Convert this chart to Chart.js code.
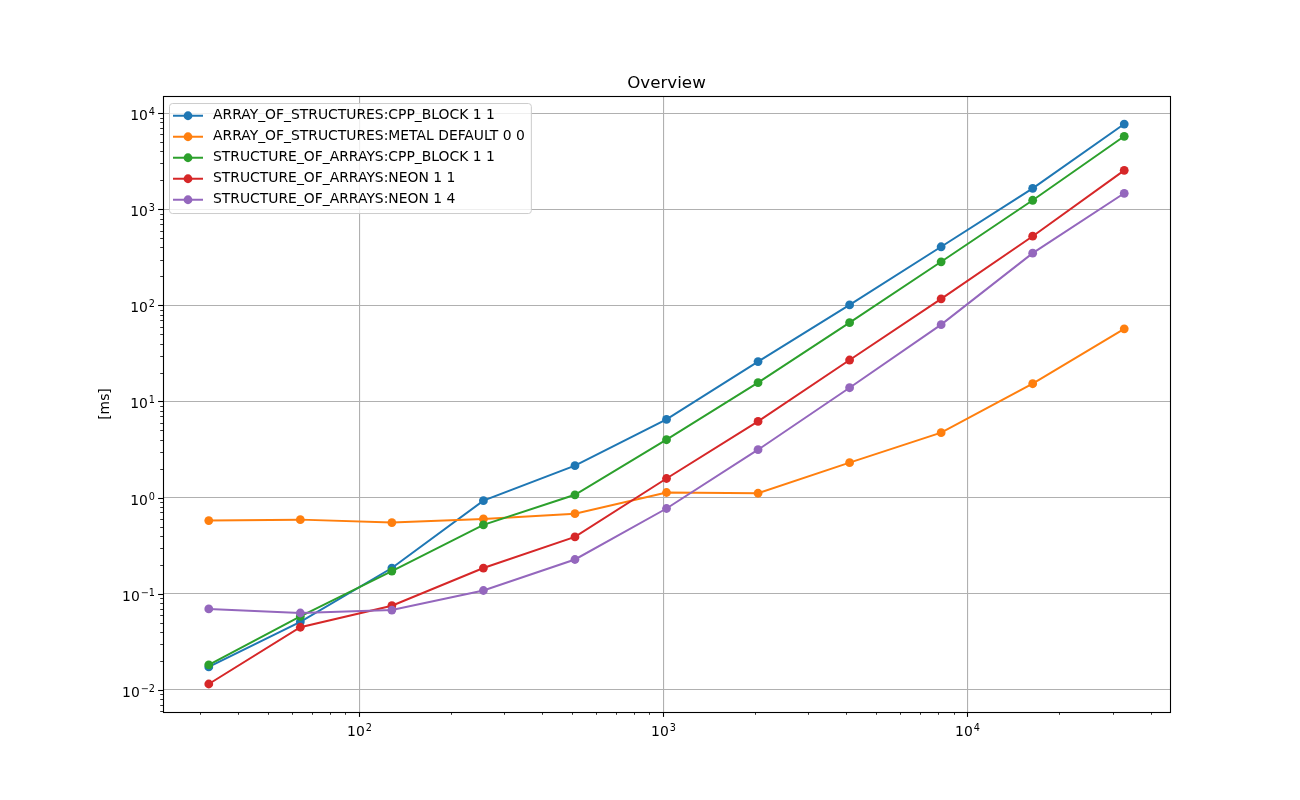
<!DOCTYPE html>
<html>
<head>
<meta charset="utf-8">
<script src="https://cdn.jsdelivr.net/npm/chart.js@4/dist/chart.umd.min.js"></script>
<style>
  html, body { margin: 0; padding: 0; background: #fff; }
  #wrap { width: 1300px; height: 800px; }
</style>
</head>
<body>
<div id="wrap"><canvas id="OverviewChart"></canvas></div>
<script>
// problem sizes (x axis)
const sizes = [32, 64, 128, 256, 512, 1024, 2048, 4096, 8192, 16384, 32768];

// times in ms
const aosCppBlock = [0.0173, 0.051, 0.185, 0.93, 2.15, 6.5, 26, 101, 407, 1650, 7700];
const aosMetal    = [0.577, 0.59, 0.55, 0.60, 0.68, 1.13, 1.11, 2.31, 4.74, 15.3, 57];
const soaCppBlock = [0.0182, 0.058, 0.172, 0.52, 1.07, 4.0, 15.7, 66, 284, 1240, 5740];
const soaNeon11   = [0.0115, 0.0448, 0.075, 0.185, 0.39, 1.58, 6.2, 27, 117, 524, 2540];
const soaNeon14   = [0.0695, 0.063, 0.0676, 0.108, 0.227, 0.77, 3.15, 13.9, 63, 349, 1466];

const seriesLabels = [
  'ARRAY_OF_STRUCTURES:CPP_BLOCK 1 1',
  'ARRAY_OF_STRUCTURES:METAL DEFAULT 0 0',
  'STRUCTURE_OF_ARRAYS:CPP_BLOCK 1 1',
  'STRUCTURE_OF_ARRAYS:NEON 1 1',
  'STRUCTURE_OF_ARRAYS:NEON 1 4'
];
const seriesValues = [aosCppBlock, aosMetal, soaCppBlock, soaNeon11, soaNeon14];
const seriesColors = ['#1f77b4', '#ff7f0e', '#2ca02c', '#d62728', '#9467bd'];

const FONT = 'DejaVu Sans';

// log axis limits with 5% margin, like matplotlib
function logLimits(values) {
  const lo = Math.log10(Math.min(...values));
  const hi = Math.log10(Math.max(...values));
  const m = (hi - lo) * 0.05;
  return [Math.pow(10, lo - m), Math.pow(10, hi + m)];
}
const xLim = logLimits(sizes);
const yLim = logLimits(seriesValues.flat());

// major (10^k) and minor (d*10^k) ticks inside the limits
function logTicks(min, max) {
  const ticks = [];
  for (let k = Math.floor(Math.log10(min)); k <= Math.ceil(Math.log10(max)); k++) {
    for (let d = 1; d <= 9; d++) {
      const v = d * Math.pow(10, k);
      if (v >= min && v <= max) ticks.push({ value: v, major: d === 1 });
    }
  }
  return ticks;
}

// exponent of a power of ten, or null for minor ticks
function powExp(value) {
  const e = Math.round(Math.log10(value));
  if (Math.abs(value - Math.pow(10, e)) > 1e-9 * value) return null;
  return e;
}
function isMajor(v) {
  return powExp(v) !== null;
}

// draws "10" with a raised, smaller exponent (mathtext look)
function drawPow(ctx, e, x, baseline, align) {
  const base = '10';
  const exp = String(e).replace('-', '\u2212');
  ctx.font = '13.9px "' + FONT + '"';
  const wb = ctx.measureText(base).width;
  ctx.font = '9.7px "' + FONT + '"';
  const we = ctx.measureText(exp).width;
  const total = wb + we + 1;
  let x0 = align === 'right' ? x - total : x - total / 2;
  ctx.textAlign = 'left';
  ctx.textBaseline = 'alphabetic';
  ctx.font = '13.9px "' + FONT + '"';
  ctx.fillText(base, x0, baseline);
  ctx.font = '9.7px "' + FONT + '"';
  ctx.fillText(exp, x0 + wb + 1, baseline - 5.5);
}

// tick marks, tick labels and axes box (matplotlib style)
const frameAndTicks = {
  id: 'frameAndTicks',
  afterDatasetsDraw(chart) {
    const ctx = chart.ctx;
    const a = chart.chartArea;
    const sx = chart.scales.x, sy = chart.scales.y;
    ctx.save();
    ctx.strokeStyle = '#000';
    ctx.fillStyle = '#000';
    sx.ticks.forEach(t => {
      const px = Math.round(sx.getPixelForValue(t.value)) + 0.5;
      const major = isMajor(t.value);
      ctx.lineWidth = major ? 1.1 : 0.8;
      ctx.beginPath();
      ctx.moveTo(px, a.bottom);
      ctx.lineTo(px, a.bottom + (major ? 4.9 : 2.8));
      ctx.stroke();
      if (major) drawPow(ctx, powExp(t.value), px, a.bottom + 24, 'center');
    });
    sy.ticks.forEach(t => {
      const py = Math.round(sy.getPixelForValue(t.value)) + 0.5;
      const major = isMajor(t.value);
      ctx.lineWidth = major ? 1.1 : 0.8;
      ctx.beginPath();
      ctx.moveTo(a.left, py);
      ctx.lineTo(a.left - (major ? 4.9 : 2.8), py);
      ctx.stroke();
      if (major) drawPow(ctx, powExp(t.value), a.left - 8, py + 6.5, 'right');
    });
    ctx.lineWidth = 1.1;
    ctx.strokeRect(Math.round(a.left) + 0.5, Math.round(a.top) + 0.5,
      Math.round(a.right - a.left), Math.round(a.bottom - a.top));
    ctx.restore();
  }
};

// legend in upper left corner, line + marker handles
const innerLegend = {
  id: 'innerLegend',
  afterDraw(chart) {
    const ctx = chart.ctx;
    const a = chart.chartArea;
    const ds = chart.data.datasets;
    ctx.save();
    ctx.font = '13.9px "' + FONT + '"';
    let w = 0;
    ds.forEach(d => { w = Math.max(w, ctx.measureText(d.label).width); });
    const x0 = a.left + 6, y0 = a.top + 7;
    const bw = w + 50, bh = 110;
    ctx.fillStyle = 'rgba(255,255,255,0.8)';
    ctx.strokeStyle = '#cccccc';
    ctx.lineWidth = 1;
    ctx.beginPath();
    ctx.roundRect(x0 + 0.5, y0 + 0.5, bw, bh, 3);
    ctx.fill();
    ctx.stroke();
    ds.forEach((d, i) => {
      const cy = y0 + 12.7 + i * 21;
      ctx.strokeStyle = d.borderColor;
      ctx.lineWidth = 2;
      ctx.beginPath();
      ctx.moveTo(x0 + 4, cy);
      ctx.lineTo(x0 + 34, cy);
      ctx.stroke();
      ctx.fillStyle = d.borderColor;
      ctx.beginPath();
      ctx.arc(x0 + 19, cy, 4.4, 0, Math.PI * 2);
      ctx.fill();
      ctx.fillStyle = '#000';
      ctx.textBaseline = 'middle';
      ctx.fillText(d.label, x0 + 44, cy);
    });
    ctx.restore();
  }
};

function initOverviewChart() {
  const ctx = document.getElementById('OverviewChart').getContext('2d');

  const datasets = seriesValues.map((vals, i) => ({
    label: seriesLabels[i],
    data: sizes.map((s, j) => ({ x: s, y: vals[j] })),
    borderColor: seriesColors[i],
    backgroundColor: seriesColors[i],
    borderWidth: 2,
    pointRadius: 4.4,
    pointBorderWidth: 0,
    pointBackgroundColor: seriesColors[i],
    tension: 0,
    fill: false,
    order: seriesValues.length - i
  }));

  new Chart(ctx, {
    type: 'line',
    data: { datasets: datasets },
    options: {
      responsive: true,
      maintainAspectRatio: false,
      animation: false,
      layout: { padding: { left: 0, right: 130, top: 0, bottom: 0 } },
      plugins: {
        legend: { display: false },
        tooltip: { enabled: false },
        title: {
          display: true,
          fullSize: false,
          text: 'Overview',
          color: '#000',
          font: { family: FONT, size: 16.7, weight: 'normal' },
          padding: { top: 74, bottom: 2 }
        }
      },
      scales: {
        x: {
          type: 'logarithmic',
          min: xLim[0],
          max: xLim[1],
          afterBuildTicks: s => { s.ticks = logTicks(xLim[0], xLim[1]); },
          afterFit: s => { s.height = 88; },
          border: { display: false },
          grid: {
            drawTicks: false,
            color: c => (c.tick && isMajor(c.tick.value)) ? '#b0b0b0' : 'rgba(0,0,0,0)',
            lineWidth: 1.1
          },
          // labels are drawn by frameAndTicks
          ticks: { display: false, autoSkip: false }
        },
        y: {
          type: 'logarithmic',
          min: yLim[0],
          max: yLim[1],
          afterBuildTicks: s => { s.ticks = logTicks(yLim[0], yLim[1]); },
          afterFit: s => { s.width = 163; },
          border: { display: false },
          grid: {
            drawTicks: false,
            color: c => (c.tick && isMajor(c.tick.value)) ? '#b0b0b0' : 'rgba(0,0,0,0)',
            lineWidth: 1.1
          },
          title: {
            display: true,
            text: '[ms]',
            color: '#000',
            font: { family: FONT, size: 13.9 },
            padding: { top: 97, bottom: 0 }
          },
          ticks: { display: false, autoSkip: false }
        }
      }
    },
    plugins: [frameAndTicks, innerLegend]
  });
}

window.addEventListener('load', initOverviewChart);
</script>
</body>
</html>
